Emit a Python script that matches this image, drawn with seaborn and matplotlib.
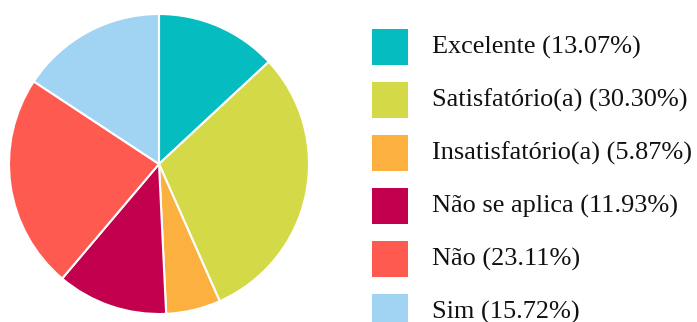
import matplotlib
matplotlib.use("Agg")
import matplotlib.pyplot as plt
import seaborn as sns
from matplotlib.patches import Rectangle

categories = ["Excelente", "Satisfatório(a)", "Insatisfatório(a)",
              "Não se aplica", "Não", "Sim"]
percentages = [13.07, 30.30, 5.87, 11.93, 23.11, 15.72]
hex_colors = ["#05BCC1", "#D4DA47", "#FBB040", "#C2004E", "#FF5A50", "#A1D4F2"]

sns.set_theme(style="white")
plt.rcParams["font.family"] = ["Liberation Serif", "DejaVu Serif"]
plt.rcParams["text.color"] = "#111111"
palette = sns.color_palette(hex_colors)

W, H = 697, 322
fig = plt.figure(figsize=(W / 100, H / 100), dpi=100)
fig.patch.set_facecolor("white")

# Pie occupies a 300 px square on the left
ax = fig.add_axes([9 / W, 8 / H, 300 / W, 300 / H])
ax.pie(percentages, colors=palette, startangle=90, counterclock=False,
       wedgeprops=dict(edgecolor="white", linewidth=1.5))
ax.set_xlim(-1.0, 1.0)
ax.set_ylim(-1.0, 1.0)
ax.set_aspect("equal")
ax.axis("off")

# Legend: colour squares with labels, laid out in pixel units
labels = [f"{c} ({p:.2f}%)" for c, p in zip(categories, percentages)]
box, step, top, x_box, x_text = 36, 53, 29, 372, 432
for i, (lab, col) in enumerate(zip(labels, palette)):
    y_top = top + step * i
    fig.patches.append(Rectangle((x_box / W, 1 - (y_top + box) / H),
                                 box / W, box / H, facecolor=col,
                                 edgecolor="none", transform=fig.transFigure))
    fig.text(x_text / W, 1 - (y_top + box / 2) / H, lab, fontsize=18.9,
             va="center", ha="left")

fig.savefig("out.png", dpi=100, facecolor="white")
